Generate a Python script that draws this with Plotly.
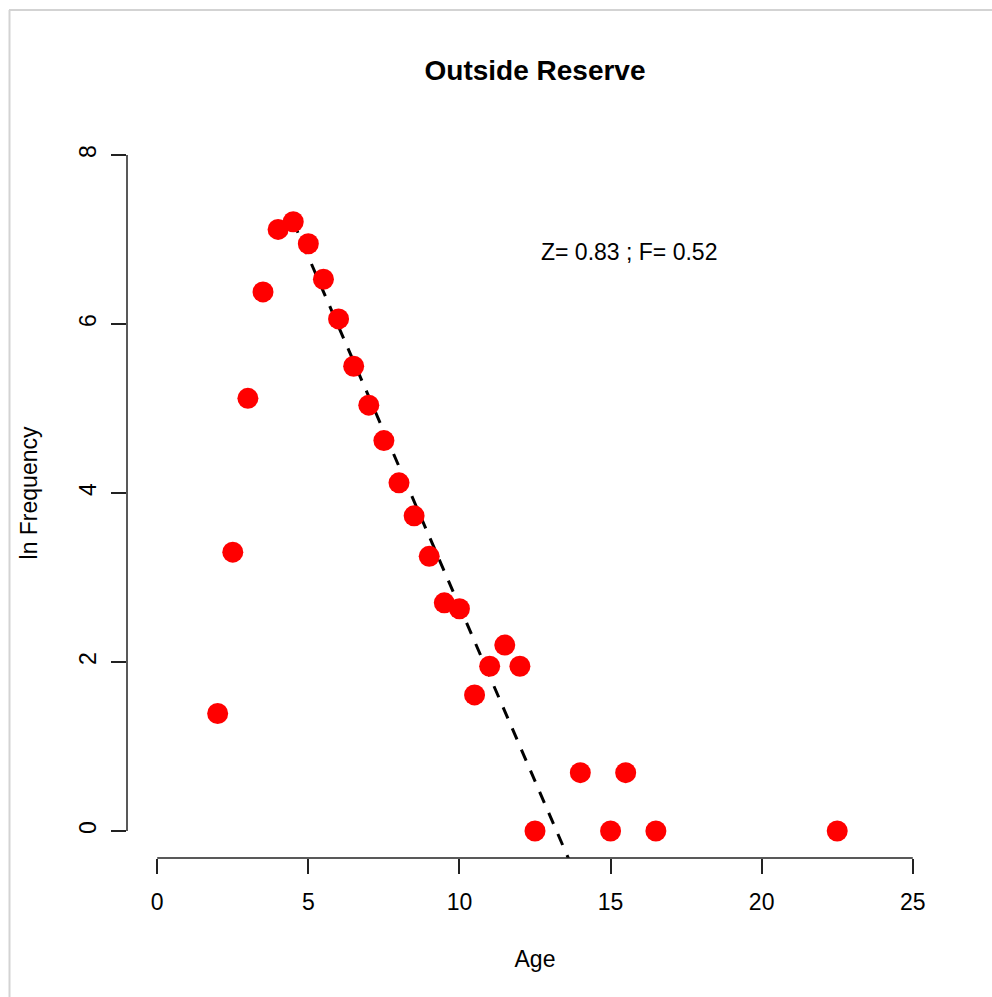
import plotly.graph_objects as go

# Catch curve: log frequency by age
age = [2, 2.5, 3, 3.5, 4, 4.5, 5, 5.5, 6, 6.5, 7, 7.5, 8, 8.5, 9, 9.5, 10,
       10.5, 11, 11.5, 12, 12.5, 14, 15, 15.5, 16.5, 22.5]
ln_freq = [1.39, 3.30, 5.12, 6.38, 7.12, 7.21, 6.95, 6.53, 6.06, 5.50, 5.04,
           4.62, 4.12, 3.73, 3.25, 2.70, 2.63, 1.61, 1.95, 2.20, 1.95, 0.0,
           0.69, 0.0, 0.69, 0.0, 0.0]

# Fitted descending limb (slope = -Z)
fit_slope = -0.8275
fit_intercept = 10.934
fit_x = [4.5, 22.5]
fit_y = [fit_intercept + fit_slope * v for v in fit_x]

stats_label = "Z= 0.83 ; F= 0.52"
x_ticks = [0, 5, 10, 15, 20, 25]
y_ticks = [0, 2, 4, 6, 8]

W, H = 992, 997
L, R, T, B = 127, 943, 128, 858  # plot area in pixels


def px_x(p):
    return (p - L) / (R - L)


def px_y(p):
    return (B - p) / (B - T)


FONT = "Liberation Sans, Arial, Helvetica, sans-serif"

fig = go.Figure()
fig.add_trace(go.Scatter(
    x=fit_x, y=fit_y, mode="lines",
    line=dict(color="black", width=3, dash="12px,11px"),
    hoverinfo="skip", showlegend=False))
fig.add_trace(go.Scatter(
    x=age, y=ln_freq, mode="markers",
    marker=dict(color="#ff0000", size=21, line=dict(width=0)),
    showlegend=False, cliponaxis=False))

fig.add_annotation(x=15.6, y=6.85, text=stats_label, showarrow=False,
                   font=dict(family=FONT, size=23, color="black"),
                   xanchor="center", yanchor="middle")

shapes = [
    # R-style axis spines spanning first to last tick
    dict(type="line", xref="x", yref="paper", x0=x_ticks[0], x1=x_ticks[-1],
         y0=0, y1=0, line=dict(color="#222", width=1.5)),
    dict(type="line", xref="paper", yref="y", x0=0, x1=0,
         y0=y_ticks[0], y1=y_ticks[-1], line=dict(color="#222", width=1.5)),
    # device frame (top and left edges)
    dict(type="line", xref="paper", yref="paper", x0=px_x(9.5), x1=px_x(9.5),
         y0=px_y(10), y1=px_y(1000), line=dict(color="#d3d3d3", width=2)),
    dict(type="line", xref="paper", yref="paper", x0=px_x(9), x1=px_x(1000),
         y0=px_y(10), y1=px_y(10), line=dict(color="#d3d3d3", width=2)),
]

fig.update_layout(
    width=W, height=H,
    margin=dict(l=L, r=W - R, t=T, b=H - B, pad=0),
    paper_bgcolor="white", plot_bgcolor="white",
    font=dict(family=FONT, size=23, color="black"),
    title=dict(text="<b>Outside Reserve</b>", x=(L + R) / 2 / W, xanchor="center",
               y=1 - 70 / H, yanchor="middle",
               font=dict(family=FONT, size=28, color="black")),
    shapes=shapes,
    showlegend=False,
)
fig.update_xaxes(
    range=[-1, 26], tickvals=x_ticks, ticktext=[str(v) for v in x_ticks],
    ticks="outside", ticklen=15, tickwidth=1.5, tickcolor="#222",
    ticklabelstandoff=8,
    showline=False, showgrid=False, zeroline=False,
    tickfont=dict(family=FONT, size=23),
    title=dict(text="Age", font=dict(family=FONT, size=23), standoff=37),
)
fig.update_yaxes(
    range=[-0.32, 8.32], tickvals=y_ticks, ticktext=[str(v) for v in y_ticks],
    ticks="outside", ticklen=15, tickwidth=1.5, tickcolor="#222",
    tickangle=-90, ticklabelstandoff=6,
    showline=False, showgrid=False, zeroline=False,
    tickfont=dict(family=FONT, size=23),
    title=dict(text="ln Frequency", font=dict(family=FONT, size=23), standoff=30),
)

fig.write_html("out.html")
